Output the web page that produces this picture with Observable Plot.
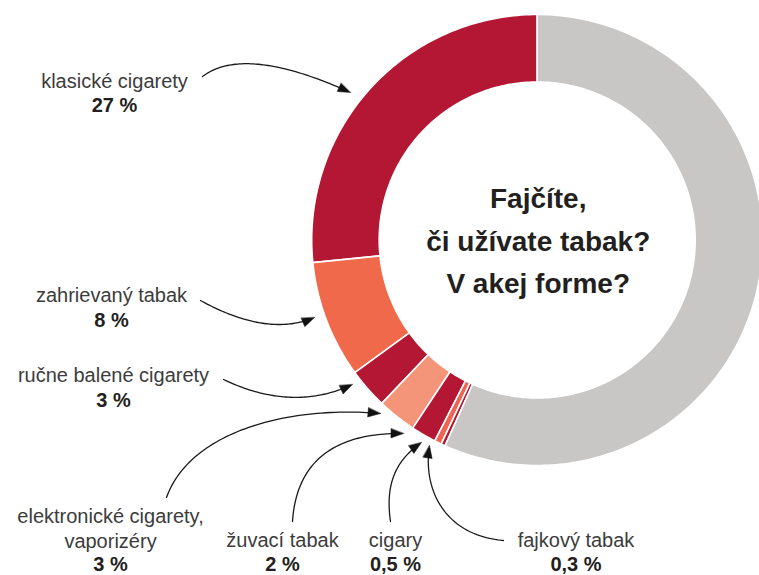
<!DOCTYPE html>
<html>
<head>
<meta charset="utf-8">
<script src="https://cdn.jsdelivr.net/npm/d3@7"></script>
<script src="https://cdn.jsdelivr.net/npm/@observablehq/plot@0.6"></script>
<style>
  html, body { margin: 0; padding: 0; background: #fff; }
  #chart { width: 759px; height: 575px; }
</style>
</head>
<body>
<div id="chart"></div>
<script>
// ---------- DATA ----------
const categories = [
  "klasické cigarety",
  "zahrievaný tabak",
  "ručne balené cigarety",
  "elektronické cigarety,\nvaporizéry",
  "žuvací tabak",
  "cigary",
  "fajkový tabak",
  "ostatní"
];
// slice shares as read from the ring (percent of respondents)
const shares = [26.6, 8.4, 2.9, 2.8, 1.8, 0.5, 0.3, 56.7];
const percentLabels = ["27 %", "8 %", "3 %", "3 %", "2 %", "0,5 %", "0,3 %", ""];
const titleLines = ["Fajčíte,", "či užívate tabak?", "V akej forme?"];

// ---------- STYLE / LAYOUT ----------
const palette = ["#B41733", "#F0694B", "#B41733", "#F4957A", "#B41733", "#EF6552", "#B41733", "#C8C7C5"];
const W = 759, H = 575;
const CX = 536.7, CY = 239.5, RO = 225.5, RI = 158;
// label anchor (x, baseline of name, baseline of percent)
const labelPos = [
  [114, 87.7, 111.7],
  [111, 301.7, 326],
  [113, 381.7, 406.5],
  [110, 547, 570.5],
  [282, 546.5, 570.5],
  [395, 546.5, 570.5],
  [575.5, 546.5, 570.5]
];
// arrow bezier control points (start ... tip)
const arrowCtrl = [
  [[202, 76], [244, 44], [350, 92]],
  [[200, 300], [267, 337], [314, 317]],
  [[223, 379], [292, 412], [352, 384]],
  [[166, 497], [190, 430], [290, 405], [380, 413]],
  [[292, 521], [296, 460], [335, 432], [403, 433]],
  [[390, 521], [384, 480], [398, 458], [421, 442]],
  [[503, 540], [445, 535], [422, 490], [429, 445]]
];

// ---------- GEOMETRY ----------
const total = d3.sum(shares);
const cum = d3.cumsum(shares);
const slicePts = [];
shares.forEach((v, i) => {
  const f0 = (cum[i] - v) / total, f1 = cum[i] / total;
  const n = Math.max(2, Math.ceil((f1 - f0) * 360));
  const pt = (f, r) => ({ x: CX - r * Math.sin(2 * Math.PI * f), y: CY - r * Math.cos(2 * Math.PI * f), key: i, color: palette[i] });
  for (let k = 0; k <= n; k++) slicePts.push(pt(f0 + (f1 - f0) * k / n, RO));
  for (let k = n; k >= 0; k--) slicePts.push(pt(f0 + (f1 - f0) * k / n, RI));
});

function bez(pts, t) {
  let p = pts.map(d => d.slice());
  while (p.length > 1) {
    const q = [];
    for (let i = 0; i < p.length - 1; i++) q.push([p[i][0] + (p[i + 1][0] - p[i][0]) * t, p[i][1] + (p[i + 1][1] - p[i][1]) * t]);
    p = q;
  }
  return p[0];
}
const arrowLines = [], arrowHeads = [];
arrowCtrl.forEach((c, i) => {
  const tip = c[c.length - 1], prev = c[c.length - 2];
  let ux = tip[0] - prev[0], uy = tip[1] - prev[1];
  const L = Math.hypot(ux, uy); ux /= L; uy /= L;
  for (let k = 0; k <= 60; k++) {
    const [x, y] = bez(c, k / 60);
    if (Math.hypot(tip[0] - x, tip[1] - y) > 7) arrowLines.push({ x, y, id: i });
  }
  const len = 12.5, hw = 4.6;
  const bx = tip[0] - ux * len, by = tip[1] - uy * len;
  arrowHeads.push({ x: tip[0], y: tip[1], id: i });
  arrowHeads.push({ x: bx - uy * hw, y: by + ux * hw, id: i });
  arrowHeads.push({ x: bx + uy * hw, y: by - ux * hw, id: i });
});

const nameRows = labelPos.map((p, i) => ({ x: p[0], y: p[1], text: categories[i] }));
const pctRows = labelPos.map((p, i) => ({ x: p[0], y: p[2], text: percentLabels[i] }));

const font = "'Liberation Sans', Arial, Helvetica, sans-serif";

const chart = Plot.plot({
  width: W, height: H, margin: 0,
  x: { domain: [0, W], range: [0, W], axis: null },
  y: { domain: [0, H], range: [0, H], axis: null },
  color: { type: "identity" },
  style: { background: "#fff", fontFamily: font },
  marks: [
    Plot.line(slicePts, { x: "x", y: "y", z: "key", fill: "color", stroke: "#fff", strokeWidth: 1.6, curve: "linear-closed" }),
    Plot.line(arrowLines, { x: "x", y: "y", z: "id", stroke: "#1a1a1a", strokeWidth: 1.3 }),
    Plot.line(arrowHeads, { x: "x", y: "y", z: "id", fill: "#111", stroke: "#111", strokeWidth: 0.5, curve: "linear-closed" }),
    Plot.text(nameRows, { x: "x", y: "y", text: "text", textAnchor: "middle", lineAnchor: "bottom", lineHeight: 1.25, fontSize: 20, fill: "#3c3c3c", fontFamily: font }),
    Plot.text(pctRows, { x: "x", y: "y", text: "text", textAnchor: "middle", lineAnchor: "bottom", fontSize: 20, fontWeight: "bold", fill: "#231f20", fontFamily: font }),
    Plot.text([titleLines.join("\n")], { x: [CX + 1], y: [292.7], text: d => d, textAnchor: "middle", lineAnchor: "bottom", lineHeight: 1.52, fontSize: 28, fontWeight: "bold", fill: "#231f20", fontFamily: font })
  ]
});
document.getElementById("chart").appendChild(chart);
</script>
</body>
</html>
